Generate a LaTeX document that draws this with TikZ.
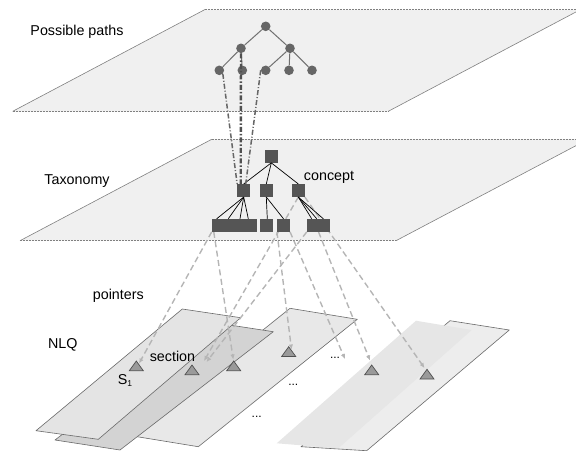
\documentclass[tikz,border=0pt]{standalone}
\usepackage{fontspec}
\setmainfont{Liberation Sans}
\usetikzlibrary{arrows.meta}
\pgfdeclarelayer{planes}
\pgfdeclarelayer{links}
\pgfsetlayers{planes,links,main}
\definecolor{planegray}{HTML}{F0F0F0}
\definecolor{rimgray}{HTML}{808080}
\definecolor{sheetedge}{HTML}{6A6A6A}
\definecolor{sheetA}{HTML}{E4E4E4}
\definecolor{sheetB}{HTML}{D3D3D3}
\definecolor{sheetC}{HTML}{E8E8E8}
\definecolor{sheetD}{HTML}{E6E6E6}
\definecolor{sheetE}{HTML}{EDEDED}
\definecolor{dotgray}{HTML}{666666}
\definecolor{edgegray}{HTML}{707070}
\definecolor{boxgray}{HTML}{555555}
\definecolor{linkgray}{HTML}{B5B5B5}
\definecolor{pathgray}{HTML}{666666}
\definecolor{pathdark}{HTML}{505050}
\definecolor{trigray}{HTML}{9A9A9A}
\definecolor{triedge}{HTML}{505050}
\begin{document}
\begin{tikzpicture}[x=1pt,y=-1pt,
  lbl/.style={font=\fontsize{14.3}{17}\selectfont, inner sep=0pt},
  planefill/.style={fill=planegray, draw=none},
  rim/.style={draw=rimgray, line width=0.6pt},
  rimdash/.style={draw=rimgray, line width=0.7pt, dash pattern=on 2pt off 1pt},
  sheet/.style={draw=sheetedge, line width=0.6pt, line join=round},
  dot/.style={circle, fill=dotgray, inner sep=0pt, minimum size=9.6pt},
  taxbox/.style={rectangle, fill=boxgray, inner sep=0pt, minimum height=12.7pt, minimum width=12.7pt},
  treeedge/.style={draw=edgegray, line width=1pt},
  taxedge/.style={draw=black, line width=0.7pt},
  link/.style={draw=linkgray, line width=1.4pt, dash pattern=on 6pt off 3.5pt, -{Latex[length=5pt,width=4.5pt]}},
  pathlight/.style={draw=pathgray, line width=1.5pt, dash pattern=on 5pt off 2pt on 1pt off 2pt},
  pathheavy/.style={draw=pathdark, line width=2.4pt, dash pattern=on 5pt off 2pt on 1.5pt off 2pt},
  tri/.style={fill=trigray, draw=triedge, line width=0.7pt, line join=miter},
  ellipsis/.style={font=\fontsize{12}{14}\selectfont, inner sep=0pt, anchor=base},
]
\useasboundingbox (0,0) rectangle (576,451);

% ---------- layer planes ----------
\begin{pgfonlayer}{planes}
  % upper plane: possible paths
  \fill[planefill] (205,9.5) -- (580.6,9.5) -- (388.3,111.3) -- (12.7,111.3) -- cycle;
  \draw[rimdash] (205,9.5) -- (580.6,9.5);
  \draw[rimdash] (12.7,111.3) -- (388.3,111.3);
  \draw[rim] (205,9.5) -- (12.7,111.3);
  \draw[rim] (580.6,9.5) -- (388.3,111.3);
  % middle plane: taxonomy
  \fill[planefill] (211.7,139.3) -- (588,139.3) -- (396,240.7) -- (20,240.7) -- cycle;
  \draw[rimdash] (211.7,139.3) -- (588,139.3);
  \draw[rimdash] (20,240.7) -- (396,240.7);
  \draw[rim] (211.7,139.3) -- (20,240.7);
  \draw[rim] (588,139.3) -- (396,240.7);
  % NLQ sheets, back to front
  \filldraw[sheet, fill=sheetC] (290,308.3) -- (357.3,319.3) -- (198.3,446.7) -- (131,435.7) -- cycle;
  \filldraw[sheet, fill=sheetB] (208.3,321.7) -- (273.3,331.7) -- (120,450) -- (55,440) -- cycle;
  \filldraw[sheet, fill=sheetA] (182.3,309) -- (240.7,317.7) -- (98.3,439.3) -- (36,430.7) -- cycle;
  \filldraw[sheet, fill=sheetE] (450,320.7) -- (509.3,330) -- (366.7,450.7) -- (301,446.7) -- cycle;
  \fill[sheetD] (416,320.7) -- (471.7,330) -- (338.3,448.3) -- (276.7,443.3) -- cycle;
\end{pgfonlayer}

% ---------- possible paths tree ----------
\node[dot] (r)  at (265.7,26.3) {};
\node[dot] (a)  at (241,48.3) {};
\node[dot] (b)  at (290,48.3) {};
\node[dot] (l1) at (219.3,70.3) {};
\node[dot] (l2) at (242.3,70.3) {};
\node[dot] (l3) at (265.7,70.3) {};
\node[dot] (l4) at (289,70.3) {};
\node[dot] (l5) at (312,70.3) {};
\begin{pgfonlayer}{links}
  \draw[treeedge] (r) -- (a);
  \draw[treeedge] (r) -- (b);
  \draw[treeedge] (a) -- (l1);
  \draw[treeedge] (a) -- (l2);
  \draw[treeedge] (b) -- (l3);
  \draw[treeedge] (b) -- (l4);
  \draw[treeedge] (b) -- (l5);
\end{pgfonlayer}

% ---------- taxonomy ----------
\node[taxbox] (troot) at (271.3,156.3) {};
\node[taxbox] (s1) at (243.7,190.5) {};
\node[taxbox] (s2) at (266.3,190.5) {};
\node[taxbox] (s3) at (298.3,190.5) {};
\node[taxbox, minimum width=44.7pt] (w) at (234.3,225.3) {};
\node[taxbox] (r2) at (266.3,225.3) {};
\node[taxbox] (r3) at (283.5,225.3) {};
\node[taxbox, minimum width=23pt] (r4) at (318.5,225.3) {};

\draw[taxedge] (troot.south) -- (s1.north);
\draw[taxedge] (troot.south) -- (s2.north);
\draw[taxedge] (troot.south) -- (s3.north);
\draw[taxedge] (s1.south) -- ([xshift=-17.6pt]w.north);
\draw[taxedge] (s1.south) -- ([xshift=-6pt]w.north);
\draw[taxedge] (s1.south) -- ([xshift=5.7pt]w.north);
\draw[taxedge] (s1.south) -- ([xshift=14pt]w.north);
\draw[taxedge] (s2.south) -- ([xshift=1pt]r2.north);
\draw[taxedge] (s2.south) -- (r3.north);
\draw[taxedge] (s3.south) -- ([xshift=-6.8pt]r4.north);
\draw[taxedge] (s3.south) -- ([xshift=-1.8pt]r4.north);
\draw[taxedge] (s3.south) -- ([xshift=4.8pt]r4.north);

% ---------- section markers ----------
\coordinate (t1) at (136.3,361);
\coordinate (t2) at (192,365);
\coordinate (t3) at (233.7,361);
\coordinate (t4) at (288.7,346.7);
\coordinate (t5) at (371.7,365);
\coordinate (t6) at (427,369.3);
\foreach \t in {t1,t2,t3,t4,t5,t6}
  \filldraw[tri] (\t) -- ++(7,9.7) -- ++(-14,0) -- cycle;

% arrow ends of the pointers
\coordinate (tip1) at (139,363.5);
\coordinate (tip2a) at (204,361);
\coordinate (tip2b) at (206.5,362);
\coordinate (tip3) at (233.3,359.5);
\coordinate (tip4) at (291.5,349.5);
\coordinate (tipd) at (345,359);
\coordinate (tip5) at (370,360.5);
\coordinate (tip6) at (424.5,368);

\begin{pgfonlayer}{links}
  \draw[link] (w.south west) -- (tip1);
  \draw[link] ([xshift=2pt]w.south west) -- (tip3);
  \draw[link] (s3.south) -- (tip2a);
  \draw[link] (r4.south west) -- (tip2b);
  \draw[link] (r3.south west) -- (tip4);
  \draw[link] (r3.south east) -- (tipd);
  \draw[link] (r4.south) -- (tip5);
  \draw[link] (s3.south east) -- (tip6);
\end{pgfonlayer}

% ---------- paths mapped onto the taxonomy ----------
\draw[pathlight] (l1.south east) -- (s1.north west);
\draw[pathheavy] (a.south) -- ([xshift=-3pt]s1.north);
\draw[pathlight] (l3.west) -- ([xshift=2pt]s1.north);

% ---------- labels ----------
\node[lbl] (lpaths) at (77,31.4) {Possible paths};
\node[lbl] (ltax) at (77,181) {Taxonomy};
\node[lbl] (lconcept) at (329,177.5) {concept};
\node[lbl] (lpointers) at (118.3,295.8) {pointers};
\node[lbl] (lnlq) at (62.8,345.3) {NLQ};
\node[lbl] (lsection) at (172.5,356) {section};
\node[lbl, anchor=base west] (ls1) at (117.7,384) {S\raisebox{-2.5pt}{\fontsize{8.5}{9}\selectfont 1}};
\node[ellipsis] (dots1) at (335,358) {...};
\node[ellipsis] (dots2) at (293.3,385.5) {...};
\node[ellipsis] (dots3) at (256.7,417.5) {...};
\end{tikzpicture}
\end{document}
